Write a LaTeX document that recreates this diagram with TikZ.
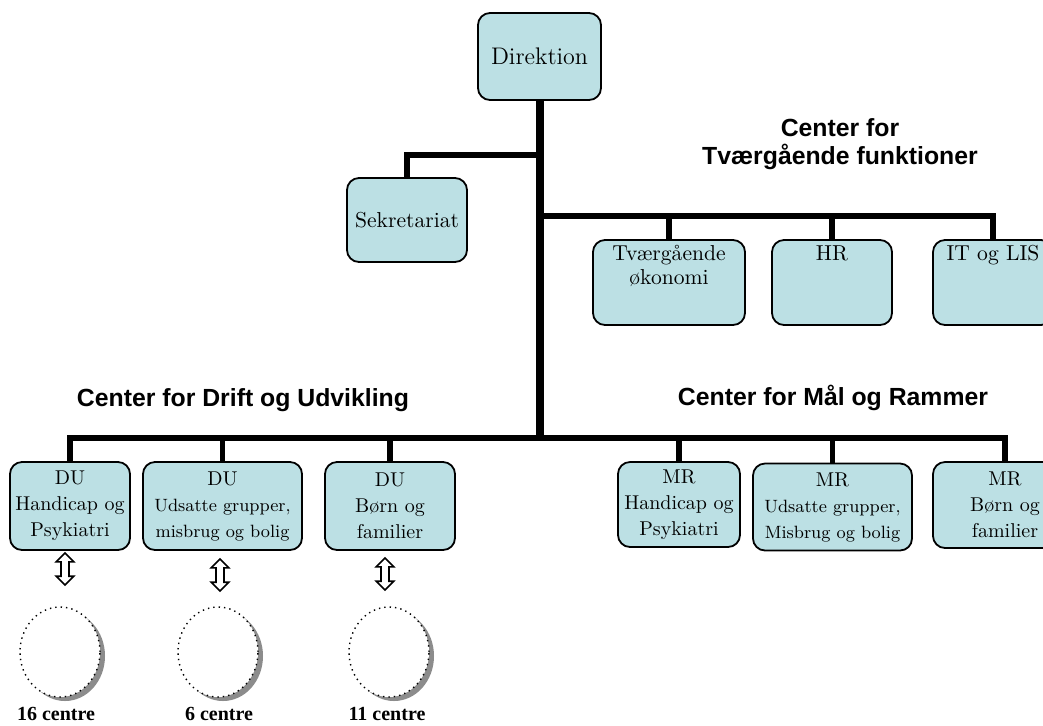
\documentclass[tikz,border=0pt]{standalone}
\usepackage{fontspec}
\newfontfamily\headfont{Liberation Sans}
\newfontfamily\countfont{Liberation Serif}
\usetikzlibrary{shapes.arrows,shapes.geometric,shadows}
\definecolor{boxblue}{RGB}{188,224,228}
\newcommand{\toptext}[2]{\parbox[t][37pt][t]{#1}{\centering #2}}
\newcommand{\smallline}[1]{{\fontsize{8.9}{11.5}\selectfont #1}}
\begin{document}
\begin{tikzpicture}[x=0.5pt,y=-0.5pt,
    unit/.style={draw,line width=0.9pt,rounded corners=6pt,fill=boxblue,align=center,inner sep=1pt},
    trunk/.style={line width=4pt},
    branch/.style={line width=2.6pt},
    heading/.style={font=\headfont\bfseries\fontsize{12.4}{14}\selectfont,align=center},
    count/.style={font=\countfont\bfseries\fontsize{10}{12}\selectfont},
    updown/.style={double arrow,shape border rotate=90,draw,fill=white,line width=0.8pt,
        inner sep=1.6pt,minimum height=16pt,minimum width=8pt,double arrow head extend=2.4pt},
    unitcircle/.style={ellipse,draw,dotted,line width=0.7pt,fill=white,minimum width=40pt,minimum height=45pt,
        drop shadow={shadow xshift=2.5pt,shadow yshift=-2pt,fill=gray!90,opacity=1}}]
    \useasboundingbox (0,0) rectangle (1043,725);
    \clip (0,0) rectangle (1043,725);
    % Ledelse
    \node[unit,minimum width=61.5pt,minimum height=43.5pt,font=\fontsize{12}{13}\selectfont] (dir) at (539.5,56.5) {Direktion};
    \node[unit,minimum width=60pt,minimum height=42pt,font=\fontsize{10.8}{12.5}\selectfont] (sek) at (407,220) {Sekretariat};
    % Tvaergaaende funktioner
    \node[heading] (htv) at (840,144) {Center for\\Tværgående funktioner};
    \node[unit,minimum width=76pt,minimum height=42.5pt,font=\fontsize{10.8}{12}\selectfont] (okon) at (669,282.5) {\toptext{74pt}{Tværgående\\økonomi}};
    \node[unit,minimum width=60pt,minimum height=42.5pt,font=\fontsize{10.8}{12}\selectfont] (hr) at (832,282.5) {\toptext{56pt}{HR}};
    \node[unit,minimum width=60pt,minimum height=42.5pt,font=\fontsize{10.8}{12}\selectfont] (it) at (993,282.5) {\toptext{58pt}{IT og LIS}};
    % Drift og Udvikling
    \node[heading] (hdu) at (243,400) {Center for Drift og Udvikling};
    \node[unit,minimum width=60pt,minimum height=44pt,font=\fontsize{10}{13}\selectfont] (duhp) at (70,506) {DU\\Handicap og\\Psykiatri};
    \node[unit,minimum width=79.5pt,minimum height=44pt,font=\fontsize{10}{13}\selectfont] (duug) at (222.5,506) {DU\\\smallline{Udsatte grupper,}\\\smallline{misbrug og bolig}};
    \node[unit,minimum width=65pt,minimum height=44pt,font=\fontsize{10}{13}\selectfont] (dubf) at (390,506) {DU\\Børn og\\familier};
    % Maal og Rammer
    \node[heading] (hmr) at (833,398) {Center for Mål og Rammer};
    \node[unit,minimum width=61pt,minimum height=42.5pt,font=\fontsize{10}{13}\selectfont] (mrhp) at (679,504.5) {MR\\Handicap og\\Psykiatri};
    \node[unit,minimum width=79.5pt,minimum height=43.5pt,font=\fontsize{10}{13}\selectfont] (mrug) at (832.5,507) {MR\\\smallline{Udsatte grupper,}\\\smallline{Misbrug og bolig}};
    \node[unit,minimum width=72pt,minimum height=43pt,font=\fontsize{10}{13}\selectfont] (mrbf) at (1005,505) {MR\\Børn og\\familier};
    % Linjer
    \coordinate (sekj) at (539.5,155);
    \coordinate (tvj) at (539.5,216);
    \coordinate (duj) at (539.5,438);
    \draw[branch] (sekj) -| (sek.north);
    \draw[branch] (tvj) -| (it.north);
    \draw[branch] (okon.north) -- (okon.north |- tvj);
    \draw[branch] (hr.north) -- (hr.north |- tvj);
    \draw[branch] (duj) -| (duhp.north);
    \draw[branch] (duug.north) -- (duug.north |- duj);
    \draw[branch] (dubf.north) -- (dubf.north |- duj);
    \draw[branch] (duj) -| (mrbf.north);
    \draw[branch] (mrhp.north) -- (mrhp.north |- duj);
    \draw[branch] (mrug.north) -- (mrug.north |- duj);
    \draw[trunk] (dir.south) -- ([yshift=-1.5pt]duj);
    % Centre
    \node[updown] (a1) at (65,569) {};
    \node[updown] (a2) at (220,575) {};
    \node[updown] (a3) at (385,574) {};
    \node[unitcircle] (c1) at (60,652) {};
    \node[unitcircle] (c2) at (218,652) {};
    \node[unitcircle] (c3) at (389,652) {};
    \node[count] (n1) at (56,714) {16 centre};
    \node[count] (n2) at (219,714) {6 centre};
    \node[count] (n3) at (387,714) {11 centre};
\end{tikzpicture}
\end{document}
